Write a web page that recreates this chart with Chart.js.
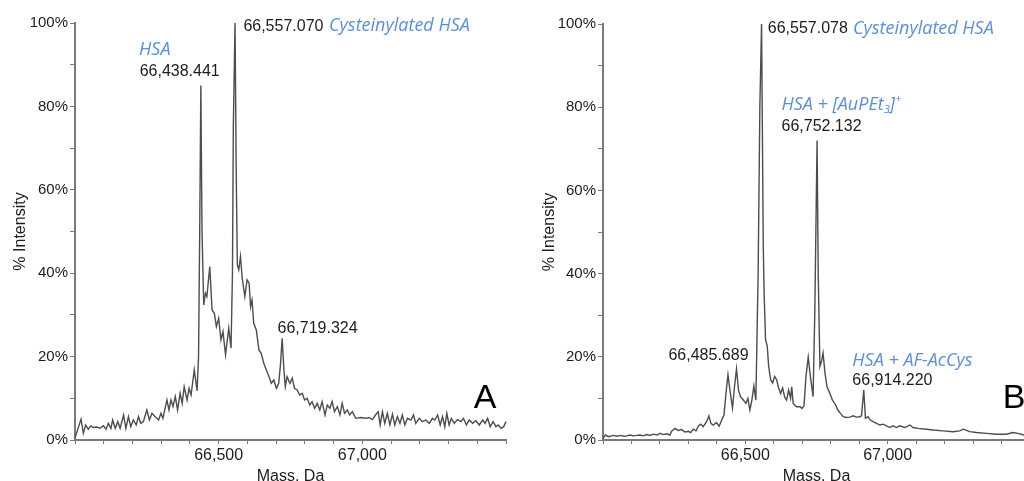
<!DOCTYPE html>
<html><head><meta charset="utf-8">
<script src="https://cdn.jsdelivr.net/npm/chart.js@4.4.1/dist/chart.umd.min.js"></script>
<style>
html,body{margin:0;padding:0;background:#fff;overflow:hidden;width:1024px;height:481px;}
#wa{position:absolute;left:0;top:0;width:512px;height:481px;}
#wb{position:absolute;left:512px;top:0;width:530px;height:481px;}
</style></head><body>
<div id="wa"><canvas id="ca" width="512" height="481"></canvas></div>
<div id="wb"><canvas id="cb" width="530" height="481"></canvas></div>
<script>
// ---------- DATA ----------
const xTickValues = [66000,66100,66200,66300,66400,66500,66600,66700,66800,66900,67000,67100,67200,67300,67400,67500];
const xTickLabelled = [66500, 67000];
const yTickValues = [0,10,20,30,40,50,60,70,80,90,100];
const yTickLabelled = [0,20,40,60,80,100];

const massA = [66000,66021,66029,66037,66046,66055,66064,66076,66087,66099,66108,66116,66125,66131,66140,66149,66157,66169,66177,66186,66194,66203,66213,66221,66229,66238,66250,66259,66268,66279,66291,66299,66306,66320,66327,66334,66341,66349,66357,66366,66373,66380,66390,66397,66404,66415,66425,66430,66434,66438,66442,66448,66454,66459,66469,66477,66485,66492,66500,66508,66515,66524,66535,66543,66548,66551,66557,66561,66565,66570,66576,66582,66591,66599,66606,66611,66616,66622,66631,66640,66648,66657,66666,66675,66683,66692,66701,66709,66715,66721,66727,66732,66738,66748,66756,66764,66773,66782,66791,66799,66808,66817,66825,66834,66843,66852,66860,66870,66878,66887,66895,66903,66913,66922,66930,66938,66948,66956,66965,66977,66994,67012,67023,67035,67046,67055,67062,67070,67078,67087,67096,67105,67113,67122,67131,67139,67148,67157,67169,67178,67186,67198,67209,67221,67233,67244,67252,67262,67271,67279,67287,67294,67302,67310,67320,67331,67343,67352,67362,67372,67384,67395,67407,67419,67427,67436,67445,67455,67465,67473,67483,67492,67500];
const intensA = [0.5,5.0,1.6,3.6,2.6,3.4,3.0,3.1,2.8,3.4,2.6,4.0,2.8,4.8,2.8,4.4,2.8,6.0,2.8,5.6,3.2,4.8,3.6,5.6,4.0,4.4,7.2,4.8,6.4,5.6,4.8,6.4,5.2,9.6,7.2,9.6,8.0,10.4,7.2,11.2,8.8,12.8,9.6,12.4,10.8,16.8,11.8,20,50,85,50,32.4,35.2,34.4,41.6,31.2,30.4,27.2,29.2,24,26,20.4,26.8,22,40,75,100,65,42,40.8,44,38.8,34.4,38.4,37.6,32,33.6,28,26.4,21.6,20.8,18.4,16.8,15.2,13.6,14.4,12.4,13.6,18,24.4,16.8,12.8,15.2,13.6,14.8,12.4,12,10.8,11.2,9.6,10,8.4,9.2,7.6,8.8,7.2,9.2,6,8.4,7.6,9.2,6.8,8,6,8.8,6.4,7.2,6,6.8,5.2,5.4,5.2,5.4,4.9,6,6.8,3.6,6.8,4,6.4,3.6,6.2,3.6,5.6,4,6,3.6,5.2,4.8,6,4,5.2,4.4,4.8,4,5.2,4.8,6,3.6,5.6,3.2,6.4,3.6,5.2,4,4.9,4.4,5.2,3.6,4.8,4,4.6,3.6,4.8,4,5.2,3.2,4.4,3.2,3.6,2.8,3.2,4.4];

const massB = [66000,66008,66020,66036,66050,66060,66075,66083,66095,66106,66118,66130,66142,66153,66165,66177,66190,66200,66212,66224,66235,66241,66253,66264,66276,66288,66300,66308,66317,66327,66335,66343,66352,66364,66372,66379,66387,66399,66408,66418,66425,66432,66439,66446,66455,66462,66469,66476,66483,66493,66502,66509,66516,66523,66530,66537,66545,66551,66557,66563,66566,66571,66577,66582,66589,66596,66603,66610,66617,66624,66631,66638,66645,66652,66659,66663,66668,66680,66692,66699,66706,66713,66721,66729,66738,66744,66752,66756,66762,66768,66773,66780,66787,66797,66806,66816,66825,66834,66844,66855,66867,66879,66890,66902,66908,66916,66922,66931,66939,66949,66961,66972,66984,66996,67007,67019,67031,67042,67060,67078,67089,67107,67136,67159,67195,67230,67253,67266,67288,67312,67347,67382,67417,67440,67458,67478,67500];
const intensB = [0.3,1.2,0.8,1.1,0.9,1.1,0.9,1.0,1.2,1.0,1.1,1.2,1.0,1.3,1.1,1.4,1.2,1.6,1.3,1.5,1.2,2.1,2.8,2.3,2.5,1.9,2.1,1.8,2.6,2.2,3.4,3.8,3.2,4.4,5.8,4.0,3.6,4.2,3.3,5.0,6.0,11.2,15.7,12,7.7,12.8,17.1,12,10.4,9.6,8.8,10,7.2,9.6,13,9.6,40,80,100,46.6,35.3,24.1,22.5,17.7,14.5,13.7,15.3,14.5,12.5,11.2,12.5,10.4,9.6,12,10,12.8,8.8,8,8,7.6,8.2,15.3,19.9,15,10.4,30.5,72,40,17.7,19,20.9,16,12.8,11.2,9.6,8.6,7.2,6.4,5.6,5.4,5.5,5.8,5.5,5.6,5.8,12,5.2,5.6,4.8,4.4,4.0,3.6,3.8,3.4,3.0,3.4,3.0,3.4,3.0,3.6,3.0,2.8,2.6,2.4,2.2,2.0,2.2,2.6,2.0,1.8,1.6,1.4,1.4,1.8,1.6,1.2,1.4];

// annotations: text, anchor mass (left edge), anchor % (vertical centre), kind
const annTextA = ['HSA','66,438.441','66,557.070','Cysteinylated HSA','66,719.324'];
const annMassA = [66223,66225,66586,66884,66705];
const annPctA  = [93.5,88.4,99.2,99.2,26.7];
const annKindA = ['tag','num','num','tag','num'];

const annTextB = ['66,557.078','Cysteinylated HSA','HSA + [AuPEt_3]^+','66,752.132','66,485.689','HSA + AF-AcCys','66,914.220'];
const annMassB = [66579,66878,66627,66627,66230,66876,66876];
const annPctB  = [98.8,98.8,80.5,75.4,20.2,19.1,14.3];
const annKindB = ['num','tag','tag','num','num','tag','num'];

const panelLetters = ['A','B'];
const letterMass = [67388, 67404];
const letterPct = [7.7, 7.7];

// ---------- RENDER ----------
const SANS = '"Liberation Sans", Arial, sans-serif';
const TAGF = '"Open Sans", sans-serif';
const BLUE = '#5b8ede';
const TEXT = '#1c1c1c';

function drawRich(ctx, str, x, y, size, family, italic){
  const segs=[]; let buf=''; let i=0;
  while(i<str.length){
    const c=str[i];
    if((c==='_'||c==='^') && i+1<str.length){
      if(buf){segs.push({t:buf,m:0});buf='';}
      segs.push({t:str[i+1],m:c==='_'?1:-1}); i+=2;
    } else {buf+=c;i++;}
  }
  if(buf) segs.push({t:buf,m:0});
  let cx=x;
  segs.forEach(s=>{
    const sz = s.m ? size*0.62 : size;
    ctx.font=(italic?'italic ':'')+sz+'px '+family;
    const dy = s.m===1 ? size*0.28 : (s.m===-1 ? -size*0.36 : 0);
    ctx.fillText(s.t,cx,y+dy);
    cx+=ctx.measureText(s.t).width;
  });
}

const annotPlugin = {
  id:'annot',
  afterDatasetsDraw(chart){
    const o = chart.options.plugins.annot;
    const {ctx} = chart; const xs=chart.scales.x, ys=chart.scales.y;
    ctx.save();
    ctx.textAlign='left'; ctx.textBaseline='middle';
    o.text.forEach((t,i)=>{
      const px=xs.getPixelForValue(o.mass[i]), py=ys.getPixelForValue(o.pct[i]);
      if(o.kind[i]==='tag'){ ctx.fillStyle=BLUE; drawRich(ctx,t,px,py,18,TAGF,true); }
      else { ctx.fillStyle=TEXT; drawRich(ctx,t,px,py,16,SANS,false); }
    });
    ctx.textBaseline='alphabetic';
    ctx.fillStyle='#000';
    ctx.font='34px '+SANS;
    ctx.fillText(o.letter, xs.getPixelForValue(o.letterMass), ys.getPixelForValue(o.letterPct));
    ctx.restore();
  }
};

function makeChart(id, mass, inten, ann, cfg){
  return new Chart(document.getElementById(id),{
    type:'line',
    data:{datasets:[{
      data: mass.map((m,i)=>({x:m,y:inten[i]})),
      borderColor:'#4d4d4d', borderWidth:1.4, pointRadius:0, tension:0, fill:false, clip:false
    }]},
    options:{
      responsive:false, animation:false, devicePixelRatio:1,
      layout:{padding:{left:0,right:cfg.padRight,top:cfg.padTop,bottom:0}},
      plugins:{legend:{display:false},tooltip:{enabled:false},annot:ann},
      scales:{
        x:{type:'linear',min:66000,max:67500,
          afterFit:s=>{s.height=41;},
          afterBuildTicks:s=>{s.ticks=xTickValues.map(v=>({value:v}));},
          border:{display:true,color:'#7a7a7a',width:2},
          grid:{display:true,drawOnChartArea:false,drawTicks:true,tickLength:4,color:'#7a7a7a',lineWidth:1},
          ticks:{autoSkip:false,maxRotation:0,minRotation:0,padding:2,color:TEXT,font:{family:SANS,size:16},
            callback:v=> xTickLabelled.includes(v) ? v.toLocaleString('en-US') : ''},
          title:{display:true,text:'Mass, Da',color:TEXT,font:{family:SANS,size:16},padding:{top:0,bottom:-5}}
        },
        y:{type:'linear',min:0,max:100,
          afterFit:s=>{s.width=cfg.yWidth;},
          afterBuildTicks:s=>{s.ticks=yTickValues.map(v=>({value:v}));},
          border:{display:true,color:'#7a7a7a',width:2},
          grid:{display:true,drawOnChartArea:false,drawTicks:true,tickLength:5,color:'#7a7a7a',lineWidth:1},
          ticks:{autoSkip:false,padding:2,color:TEXT,font:{family:SANS,size:15},
            callback:v=> yTickLabelled.includes(v) ? v+'%' : ''},
          title:{display:true,text:'% Intensity',color:TEXT,font:{family:SANS,size:16},padding:{top:cfg.titlePad,bottom:0}}
        }
      }
    },
    plugins:[annotPlugin]
  });
}

makeChart('ca', massA, intensA,
  {text:annTextA,mass:annMassA,pct:annPctA,kind:annKindA,letter:panelLetters[0],letterMass:letterMass[0],letterPct:letterPct[0]},
  {padRight:6,padTop:23,yWidth:75,titlePad:10.6});
makeChart('cb', massB, intensB,
  {text:annTextB,mass:annMassB,pct:annPctB,kind:annKindB,letter:panelLetters[1],letterMass:letterMass[1],letterPct:letterPct[1]},
  {padRight:12,padTop:24,yWidth:91,titlePad:27.6});
</script>
</body></html>
